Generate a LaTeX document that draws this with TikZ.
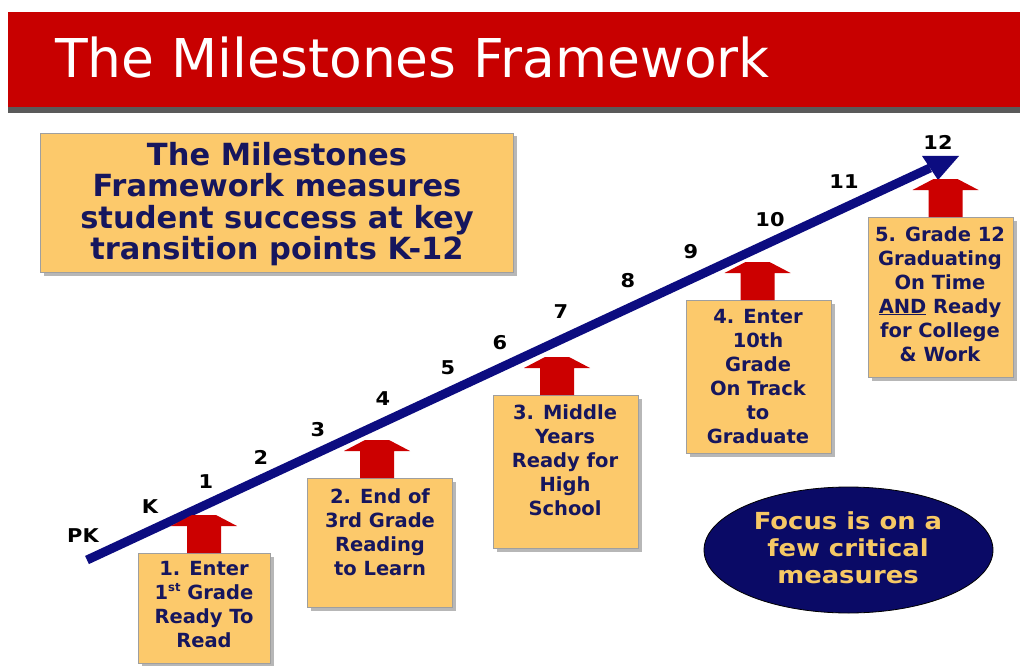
\documentclass[tikz,border=0pt]{standalone}
\usepackage{fontspec}
\setmainfont{DejaVu Sans}
\newfontfamily\bodyfont[FakeStretch=1.1]{DejaVu Sans}
\usetikzlibrary{arrows.meta,shadows,shapes.geometric,calc}
\definecolor{titlered}{HTML}{C80000}
\definecolor{titleshadow}{HTML}{5A5A5A}
\definecolor{boxfill}{HTML}{FCC96B}
\definecolor{navytext}{HTML}{16165E}
\definecolor{linenavy}{HTML}{0C0C80}
\definecolor{arrowred}{HTML}{CC0000}
\definecolor{ellfill}{HTML}{0A0A66}
\definecolor{elltext}{HTML}{F6C865}
\begin{document}
\begin{tikzpicture}[x=1pt,y=-1pt,
  ybox/.style={draw=gray!75, line width=0.8pt, fill=boxfill, inner sep=0pt,
    drop shadow={shadow xshift=3.5pt, shadow yshift=-3.5pt, fill=gray!80, opacity=0.7}},
  mtext/.style={font=\bfseries\fontsize{19.5}{24}\selectfont, text=navytext, align=center, inner sep=0pt},
  ylabel/.style={font=\bodyfont\bfseries\fontsize{19}{20}\selectfont, text=black, inner sep=0pt},
  uparrow/.pic={\fill[arrowred] (-17,0) -- (-17,-27) -- (-33,-27) -- (-12,-38) -- (12,-38) -- (33,-27) -- (17,-27) -- (17,0) -- cycle;}
]
\useasboundingbox (0,0) rectangle (1020,666);
\fill[white] (0,0) rectangle (1020,666);

% title bar
\fill[titleshadow] (8,16) rectangle (1020,113);
\fill[titlered] (8,12) rectangle (1020,107);
\node[anchor=base west, inner sep=0pt, text=white, font=\fontsize{53.5}{60}\selectfont] (title) at (55,78) {The Milestones Framework};

% intro box
\node[ybox, minimum width=473pt, minimum height=139pt] (b0) at (276.5,202.5) {};
\node[font=\bfseries\fontsize{30.5}{31.5}\selectfont, text=navytext, align=center, inner sep=0pt] (t0) at (277,204)
  {The Milestones\\Framework measures\\student success at key\\transition points K-12};

% timeline
\coordinate (start) at (87,560);
\coordinate (hb) at (930,168);
\coordinate (hl) at (922,156);
\coordinate (hr) at (938,180);
\coordinate (tip) at (959,156);
\draw[linenavy, line width=9pt] (start) -- (hb);
\fill[linenavy] (tip) -- (hl) -- (hr) -- cycle;

% year labels
\node[ylabel] (yPK) at (83,536) {PK};
\node[ylabel] (yK) at (150,507) {K};
\node[ylabel] (y1) at (206,482) {1};
\node[ylabel] (y2) at (261,457) {2};
\node[ylabel] (y3) at (318,430) {3};
\node[ylabel] (y4) at (383,399) {4};
\node[ylabel] (y5) at (448,368) {5};
\node[ylabel] (y6) at (500,343) {6};
\node[ylabel] (y7) at (561,312) {7};
\node[ylabel] (y8) at (628,281) {8};
\node[ylabel] (y9) at (691,252) {9};
\node[ylabel] (y10) at (770,220) {10};
\node[ylabel] (y11) at (844,182) {11};
\node[ylabel] (y12) at (938,142) {12};

% milestone boxes
\node[ybox, minimum width=132pt, minimum height=110pt] (b1) at (204,608) {};
\node[ybox, minimum width=145pt, minimum height=129pt] (b2) at (379.5,542.5) {};
\node[ybox, minimum width=145pt, minimum height=153pt] (b3) at (565.5,471.5) {};
\node[ybox, minimum width=145pt, minimum height=153pt] (b4) at (758.5,376.5) {};
\node[ybox, minimum width=145pt, minimum height=160pt] (b5) at (940.5,297) {};

\node[mtext] (t1) at (204,605) {1. Enter\\1\raisebox{0.42em}{\fontsize{11.5}{11.5}\selectfont st} Grade\\Ready To\\Read};
\node[mtext] (t2) at (380,532) {2. End of\\3rd Grade\\Reading\\to Learn};
\node[mtext] (t3) at (565,460) {3. Middle\\Years\\Ready for\\High\\School};
\node[mtext] (t4) at (758,377) {4. Enter\\10th\\Grade\\On Track\\to\\Graduate};
\node[mtext] (t5) at (940,294) {5. Grade 12\\Graduating\\On Time\\\underline{AND} Ready\\for College\\\& Work};

% red up arrows
\pic at (204,553) {uparrow};
\pic at (377,478) {uparrow};
\pic at (557,395) {uparrow};
\pic at (757.5,300) {uparrow};
\pic at (945.5,217) {uparrow};

% focus ellipse
\node[ellipse, draw=black, line width=0.8pt, fill=ellfill, minimum width=289pt, minimum height=126pt, inner sep=0pt] (focus) at (848.5,550) {};
\node[font=\bodyfont\bfseries\fontsize{23.5}{27}\selectfont, text=elltext, align=center, inner sep=0pt] (ft) at (848,548)
  {Focus is on a\\few critical\\measures};
\end{tikzpicture}
\end{document}
